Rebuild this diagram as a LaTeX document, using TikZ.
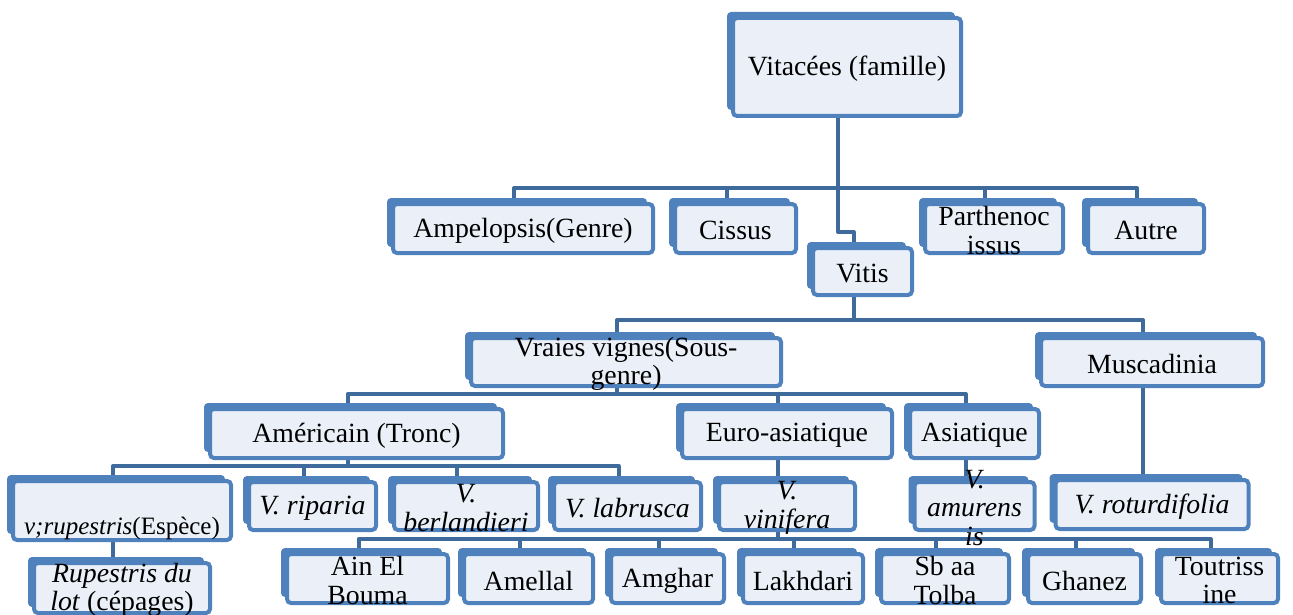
\documentclass[tikz,border=0pt]{standalone}
\usepackage{fontspec}
\setmainfont{Liberation Serif}
\usepackage{tikz}
\definecolor{boxblue}{HTML}{4F81BD}
\definecolor{boxfill}{HTML}{EBF0F8}
\definecolor{linkblue}{HTML}{3F6A9C}
\pgfdeclarelayer{links}
\pgfdeclarelayer{shade}
\pgfsetlayers{links,shade,main}
\newcommand{\boxfont}{\fontsize{27.8}{28.5}\selectfont}
\tikzset{
  box/.style={draw=boxblue, fill=boxfill, line width=4pt, rounded corners=4pt, inner sep=0pt, outer sep=0pt, minimum height=49pt},
  boxback/.style={fill=boxblue, rounded corners=4pt},
  boxtext/.style={font=\boxfont, align=center, inner sep=0pt, yshift=-2pt},
  link/.style={draw=linkblue, line width=4pt, line join=round}
}

\begin{document}
\begin{tikzpicture}[x=1pt,y=-1pt]
  \def\busone{188}
  \def\hook{232}
  \def\bustwo{320}
  \def\busthree{394}
  \def\busfour{466}
  \def\busfive{539}

  \useasboundingbox (0,0) rectangle (1293,615);

  % famille
  \node[box, minimum width=228pt, minimum height=98pt, label={[boxtext]center:Vitacées (famille)}] (fam) at (847,67) {};

  % genres
  \node[box, minimum width=260pt, label={[boxtext]center:Ampelopsis(Genre)}] (amp) at (523,228.5) {};
  \node[box, minimum width=121pt, label={[boxtext]center:Cissus}] (cis) at (735.5,228.5) {};
  \node[box, minimum width=138pt, label={[boxtext]center:{Parthenoc\\issus}}] (par) at (994,228.5) {};
  \node[box, minimum width=116pt, label={[boxtext]center:Autre}] (aut) at (1146,228.5) {};
  \node[box, minimum width=99pt, minimum height=47pt, label={[boxtext]center:Vitis}] (vitis) at (862.5,271.5) {};

  % sous-genres
  \node[box, minimum width=310pt, minimum height=48pt, label={[boxtext]center:{Vraies vignes(Sous-\\genre)}}] (vraies) at (626,362) {};
  \node[box, minimum width=222pt, minimum height=48pt, label={[boxtext]center:Muscadinia}] (musc) at (1152,362) {};

  % troncs
  \node[box, minimum width=293pt, label={[boxtext]center:Américain (Tronc)}] (amer) at (356.5,433.5) {};
  \node[box, minimum width=210pt, label={[boxtext]center:Euro-asiatique}] (euro) at (787,433.5) {};
  \node[box, minimum width=129pt, label={[boxtext]center:Asiatique}] (asia) at (974.5,433.5) {};

  % especes
  \node[box, minimum width=218pt, minimum height=59pt, label={[boxtext, font=\fontsize{25}{28.5}\selectfont]center:{\strut\\\emph{v;rupestris}(Espèce)}}] (rup) at (122,510.5) {};
  \node[box, minimum width=127pt, minimum height=48pt, label={[boxtext]center:\emph{V. riparia}}] (rip) at (312.5,506) {};
  \node[box, minimum width=144pt, minimum height=48pt, label={[boxtext]center:{\emph{V.}\\\emph{berlandieri}}}] (ber) at (466,506) {};
  \node[box, minimum width=147pt, minimum height=48pt, label={[boxtext]center:\emph{V. labrusca}}] (lab) at (627.5,506) {};
  \node[box, minimum width=136pt, minimum height=48pt, label={[boxtext]center:{\emph{V.}\\\emph{vinifera}}}] (vin) at (787,506) {};
  \node[box, minimum width=120pt, minimum height=48pt, label={[boxtext]center:{\emph{V.}\\\emph{amurens}\\\emph{is}}}] (amu) at (974.5,506) {};
  \node[box, minimum width=193pt, label={[boxtext]center:\emph{V. roturdifolia}}] (rot) at (1152,504.5) {};

  % cepages
  \node[box, minimum width=176pt, minimum height=50pt, label={[boxtext]center:{\emph{Rupestris du}\\\emph{lot} (cépages)}}] (lot) at (122,588) {};
  \node[box, minimum width=161pt, label={[boxtext]center:{Ain El\\Bouma}}] (ain) at (367.5,578.5) {};
  \node[box, minimum width=129pt, label={[boxtext]center:Amellal}] (ame) at (528.5,578.5) {};
  \node[box, minimum width=113pt, label={[boxtext]center:Amghar}] (amg) at (667.5,578.5) {};
  \node[box, minimum width=120pt, label={[boxtext]center:Lakhdari}] (lak) at (803,578.5) {};
  \node[box, minimum width=128pt, label={[boxtext]center:{Sb aa\\Tolba}}] (sba) at (945,578.5) {};
  \node[box, minimum width=113pt, label={[boxtext]center:Ghanez}] (gha) at (1084.5,578.5) {};
  \node[box, minimum width=117pt, label={[boxtext]center:{Toutriss\\ine}}] (tou) at (1219.5,578.5) {};

  % fonds decales
  \begin{pgfonlayer}{shade}
    \foreach \n in {fam,amp,cis,par,aut,vitis,vraies,musc,amer,euro,asia,rup,rip,ber,lab,vin,amu,rot,lot,ain,ame,amg,lak,sba,gha,tou}
      \fill[boxback] ([shift={(-6pt,6pt)}]\n.north west) rectangle ([shift={(-6pt,6pt)}]\n.south east);
  \end{pgfonlayer}

  % liens
  \begin{pgfonlayer}{links}
  \begin{scope}[transform canvas={xshift=-9pt}]
    \draw[link] (fam.south) -- (fam.south |- 0,\hook) -| (vitis.north);
    \foreach \c in {amp,cis,par,aut}
      \draw[link] (fam.south |- 0,\busone) -| (\c.north);
    \draw[link] (vitis.south) -- (vitis.south |- 0,\bustwo);
    \foreach \c in {vraies,musc}
      \draw[link] (vitis.south |- 0,\bustwo) -| (\c.north);
    \draw[link] (vraies.south) -- (vraies.south |- 0,\busthree);
    \foreach \c in {amer,euro,asia}
      \draw[link] (vraies.south |- 0,\busthree) -| (\c.north);
    \draw[link] (amer.south) -- (amer.south |- 0,\busfour);
    \foreach \c in {rup,rip,ber,lab}
      \draw[link] (amer.south |- 0,\busfour) -| (\c.north);
    \draw[link] (euro.south) -- (euro.south |- vin.north);
    \draw[link] (asia.south) -- (asia.south |- amu.north);
    \draw[link] (musc.south) -- (musc.south |- rot.north);
    \draw[link] (rup.south) -- (rup.south |- lot.north);
    \draw[link] (vin.south) -- (vin.south |- 0,\busfive);
    \foreach \c in {ain,ame,amg,lak,sba,gha,tou}
      \draw[link] (vin.south |- 0,\busfive) -| (\c.north);
  \end{scope}
  \end{pgfonlayer}
\end{tikzpicture}
\end{document}
